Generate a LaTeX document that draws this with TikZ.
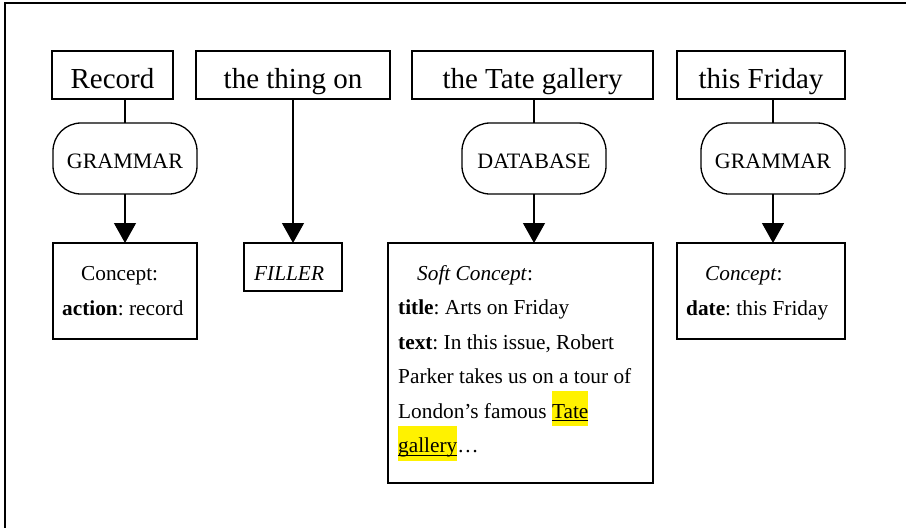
\documentclass[tikz,border=0pt]{standalone}
\usepackage{fontspec}
\setmainfont{Liberation Serif}
\frenchspacing
\usetikzlibrary{arrows.meta}
\newlength\hlw
\newcommand\hlword[1]{\settowidth\hlw{#1}{\setlength\fboxsep{0pt}\colorbox{yellow}{\rule[-8pt]{0pt}{35pt}\rlap{\rule[-3pt]{\hlw}{1pt}}#1}}}
\tikzset{
  lbl/.style={draw, line width=1.3pt, inner sep=0pt, outer sep=0pt, minimum height=48pt, text height=26pt, text depth=0pt, font=\fontsize{29}{34}\selectfont},
  src/.style={draw, line width=1.3pt, inner sep=0pt, outer sep=0pt, rounded corners=28pt, minimum width=144pt, minimum height=71pt, text height=19pt, text depth=0pt, font=\fontsize{22}{26}\selectfont},
  frame/.style={draw, line width=1.3pt, inner sep=0pt, outer sep=0pt},
  txt/.style={anchor=base west, inner sep=0pt, font=\fontsize{21.3}{26}\selectfont\frenchspacing},
  conn/.style={line width=1.3pt},
  arr/.style={line width=1.3pt, -{Triangle[width=22pt,length=20pt]}}
}
\begin{document}
\begin{tikzpicture}[x=1pt,y=-1pt]
\useasboundingbox (0,0) rectangle (906,528);
\draw[line width=1.5pt] (5,528) -- (5,3) -- (906,3);
% top labels
\node[lbl, minimum width=121pt] (rec) at (112.5,75) {Record};
\node[lbl, minimum width=194pt] (thing) at (293,75) {the thing on};
\node[lbl, minimum width=241pt] (tate) at (532.5,75) {the Tate gallery};
\node[lbl, minimum width=168pt] (fri) at (761,75) {this Friday};
% sources
\node[src] (gr1) at (125,158.5) {GRAMMAR};
\node[src] (db) at (534,158.5) {DATABASE};
\node[src] (gr2) at (773,158.5) {GRAMMAR};
% result frames
\node[frame, minimum width=144pt, minimum height=96pt] (c1) at (125,291) {};
\node[frame, minimum width=98pt, minimum height=48pt] (fil) at (293,267) {};
\node[frame, minimum width=265pt, minimum height=240pt] (sc) at (520.5,363) {};
\node[frame, minimum width=168pt, minimum height=96pt] (c2) at (761,291) {};
% texts in frames
\node[txt] (c1a) at (81,280) {Concept:};
\node[txt] (c1b) at (62,315) {\textbf{action}: record};
\node[txt] (fila) at (254,280) {\textit{FILLER}};
\node[txt] (sca) at (417,280) {\textit{Soft Concept}:};
\node[txt] (scb) at (398,314.5) {\textbf{title}: Arts on Friday};
\node[txt] (scc) at (398,349) {\textbf{text}: In this issue, Robert};
\node[txt] (scd) at (398,383.5) {Parker takes us on a tour of};
\node[txt] (sce) at (398,418) {London’s famous \hlword{Tate}};
\node[txt] (scf) at (398,452.5) {\hlword{gallery}…};
\node[txt] (c2a) at (705,280) {\textit{Concept}:};
\node[txt] (c2b) at (686,315) {\textbf{date}: this Friday};
% connectors
\draw[conn] (rec.south -| gr1.north) -- (gr1.north);
\draw[arr] (gr1.south) -- (c1.north -| gr1.south);
\draw[arr] (thing.south) -- (fil.north);
\draw[conn] (tate.south -| db.north) -- (db.north);
\draw[arr] (db.south) -- (sc.north -| db.south);
\draw[conn] (fri.south -| gr2.north) -- (gr2.north);
\draw[arr] (gr2.south) -- (c2.north -| gr2.south);
\end{tikzpicture}
\end{document}
